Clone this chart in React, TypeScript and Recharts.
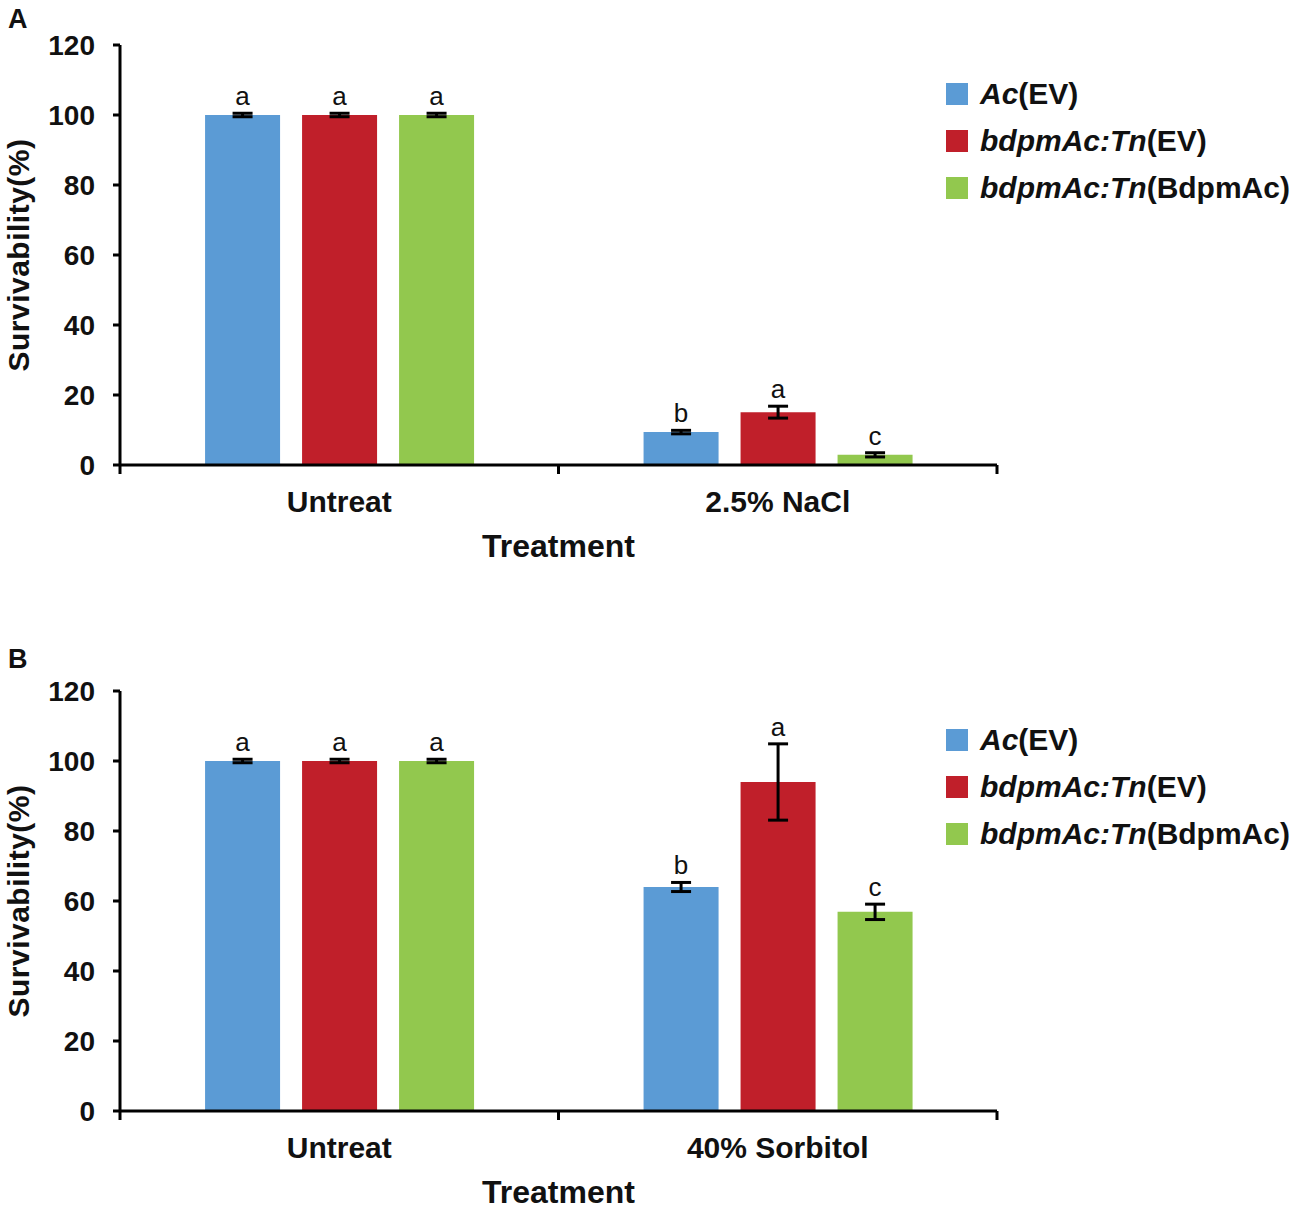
import React from 'react';
import { BarChart, Bar, XAxis, YAxis, ErrorBar, LabelList, Label } from 'recharts';

// survivability (%)
const categoriesA = ['Untreat', '2.5% NaCl'];
const categoriesB = ['Untreat', '40% Sorbitol'];
const yTicks = [0, 20, 40, 60, 80, 100, 120];

const acEvA = [100, 9.4];
const acEvErrA = [0.5, 0.5];
const acEvLettersA = ['a', 'b'];
const tnEvA = [100, 15.1];
const tnEvErrA = [0.5, 1.7];
const tnEvLettersA = ['a', 'a'];
const tnBdA = [100, 2.9];
const tnBdErrA = [0.5, 0.6];
const tnBdLettersA = ['a', 'c'];

const acEvB = [100, 64];
const acEvErrB = [0.5, 1.3];
const acEvLettersB = ['a', 'b'];
const tnEvB = [100, 94];
const tnEvErrB = [0.5, 10.9];
const tnEvLettersB = ['a', 'a'];
const tnBdB = [100, 56.9];
const tnBdErrB = [0.5, 2.2];
const tnBdLettersB = ['a', 'c'];

const SERIES = [
  { key: 'acEv', color: '#5B9BD5', italic: 'Ac', rest: '(EV)' },
  { key: 'tnEv', color: '#C01F2A', italic: 'bdpmAc:Tn', rest: '(EV)' },
  { key: 'tnBd', color: '#92C84E', italic: 'bdpmAc:Tn', rest: '(BdpmAc)' },
];

const FONT = '"Liberation Sans", Arial, Helvetica, sans-serif';
const W = 1298;
const PLOT_LEFT = 120;
const PLOT_RIGHT = 997;
const PLOT_H = 420;
const Y_MAX = 120;
const BAND = (PLOT_RIGHT - PLOT_LEFT) / 2;

function buildRows(categories: string[], values: number[][], errs: number[][], letters: string[][]) {
  return categories.map((name, i) => {
    const row: any = { name };
    SERIES.forEach((s, k) => {
      row[s.key] = values[k][i];
      row[s.key + 'Err'] = errs[k][i];
      row[s.key + 'Let'] = letters[k][i];
    });
    return row;
  });
}

const rowsA = buildRows(
  categoriesA,
  [acEvA, tnEvA, tnBdA],
  [acEvErrA, tnEvErrA, tnBdErrA],
  [acEvLettersA, tnEvLettersA, tnBdLettersA],
);
const rowsB = buildRows(
  categoriesB,
  [acEvB, tnEvB, tnBdB],
  [acEvErrB, tnEvErrB, tnBdErrB],
  [acEvLettersB, tnEvLettersB, tnBdLettersB],
);

const makeLetter = (rows: any[], errKey: string) => (p: any) => {
  const row = rows[p.index];
  if (!row) return null;
  const errPx = (row[errKey] * PLOT_H) / Y_MAX;
  return (
    <text
      x={p.x + p.width / 2}
      y={p.y - errPx - 17}
      textAnchor="middle"
      dominantBaseline="central"
      fontSize={26}
      fontFamily={FONT}
      fill="#111"
    >
      {p.value}
    </text>
  );
};

const XTick = (p: any) => {
  const { x, y, payload } = p;
  const half = payload && payload.offset > 0 ? payload.offset : BAND / 2;
  return (
    <g>
      <line x1={x - half} x2={x - half} y1={y} y2={y + 9} stroke="#000" strokeWidth={3} />
      <line x1={x + half} x2={x + half} y1={y} y2={y + 9} stroke="#000" strokeWidth={3} />
      <text x={x} y={y + 47} textAnchor="middle" fontSize={30} fontWeight="bold" fontFamily={FONT} fill="#111">
        {payload.value}
      </text>
    </g>
  );
};

function Legend({ top }: { top: number }) {
  return (
    <div style={{ position: 'absolute', left: 946, top, fontFamily: FONT, fontSize: 30, fontWeight: 'bold', color: '#111' }}>
      {SERIES.map((s) => (
        <div key={s.key} style={{ display: 'flex', alignItems: 'center', height: 47 }}>
          <span style={{ display: 'inline-block', width: 22, height: 22, background: s.color, marginRight: 12 }} />
          <span style={{ whiteSpace: 'nowrap' }}>
            <i>{s.italic}</i>
            {s.rest}
          </span>
        </div>
      ))}
    </div>
  );
}

function Panel({ rows, top, height, plotTop, axisH, tag }: any) {
  return (
    <div style={{ position: 'absolute', left: 0, top, width: W, height }}>
      <div style={{ position: 'absolute', left: 8, top: 4, fontFamily: FONT, fontSize: 27, fontWeight: 'bold', color: '#111' }}>
        {tag}
      </div>
      <BarChart
        width={W}
        height={height}
        data={rows}
        margin={{ top: plotTop, right: W - PLOT_RIGHT, bottom: height - plotTop - PLOT_H - axisH, left: 0 }}
        barCategoryGap="19.4%"
        barGap={22}
      >
        <YAxis
          width={PLOT_LEFT}
          domain={[0, Y_MAX]}
          ticks={yTicks}
          interval={0}
          axisLine={{ stroke: '#000', strokeWidth: 3 }}
          tickLine={{ stroke: '#000', strokeWidth: 3 }}
          tickSize={7}
          tickMargin={18}
          tick={{ fontSize: 28, fontWeight: 'bold', fontFamily: FONT, fill: '#111' }}
        >
          <Label
            content={(lp: any) => {
              const vb = lp.viewBox;
              const cx = vb.x + 18;
              const cy = vb.y + vb.height / 2;
              return (
                <text
                  x={cx}
                  y={cy}
                  transform={`rotate(-90 ${cx} ${cy})`}
                  textAnchor="middle"
                  dominantBaseline="central"
                  fontSize={30}
                  fontWeight="bold"
                  fontFamily={FONT}
                  letterSpacing={0.5}
                  fill="#111"
                >
                  Survivability(%)
                </text>
              );
            }}
          />
        </YAxis>
        <XAxis
          dataKey="name"
          height={axisH}
          axisLine={{ stroke: '#000', strokeWidth: 3 }}
          tickLine={false}
          tickSize={0}
          tickMargin={0}
          interval={0}
          tick={<XTick />}
        >
          <Label
            content={(lp: any) => {
              const vb = lp.viewBox;
              return (
                <text
                  x={vb.x + vb.width / 2}
                  y={vb.y + 92}
                  textAnchor="middle"
                  fontSize={32}
                  fontWeight="bold"
                  fontFamily={FONT}
                  fill="#111"
                >
                  Treatment
                </text>
              );
            }}
          />
        </XAxis>
        {SERIES.map((s) => (
          <Bar key={s.key} dataKey={s.key} fill={s.color} isAnimationActive={false}>
            <ErrorBar dataKey={s.key + 'Err'} width={10} stroke="#000" strokeWidth={3} direction="y" />
            <LabelList dataKey={s.key + 'Let'} content={makeLetter(rows, s.key + 'Err')} />
          </Bar>
        ))}
      </BarChart>
      <Legend top={plotTop + 25} />
    </div>
  );
}

export default function App() {
  return (
    <div style={{ position: 'fixed', left: 0, top: 0, width: W, height: 1209, overflow: 'hidden', background: '#fff' }}>
      <Panel rows={rowsA} top={0} height={640} plotTop={45} axisH={100} tag="A" />
      <Panel rows={rowsB} top={640} height={569} plotTop={51} axisH={96} tag="B" />
    </div>
  );
}
